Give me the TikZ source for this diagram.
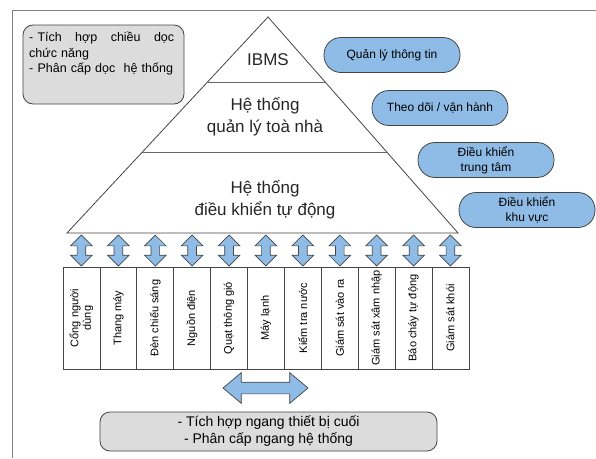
\documentclass[tikz,border=0pt]{standalone}
\usepackage{fontspec}
\setmainfont{Liberation Sans}
\usetikzlibrary{positioning,calc,shapes.arrows}
\definecolor{ibmsblue}{HTML}{8FBCE6}
\definecolor{ibmsgray}{HTML}{DCDCDC}
\definecolor{ibmsline}{HTML}{444444}

\begin{document}
\begin{tikzpicture}[x=1pt,y=-1pt,
    level/.style={text=black!85,font=\fontsize{17}{22}\selectfont,align=center},
    task/.style={draw=ibmsline,fill=ibmsblue,line width=0.8pt,rounded corners=17pt,
      minimum width=136pt,minimum height=35pt,inner sep=0pt,align=center,
      font=\fontsize{12}{15}\selectfont},
    note/.style={draw=ibmsline,fill=ibmsgray,line width=0.8pt,rounded corners=10pt},
    dev/.style={draw=ibmsline,line width=0.8pt,rotate=90,minimum width=102pt,
      minimum height=36.9pt,inner sep=1pt,align=center,font=\fontsize{11}{12.5}\selectfont},
    vlink/.style={double arrow,draw=ibmsline,fill=ibmsblue,line width=0.7pt,rotate=90,
      inner xsep=0pt,inner ysep=4pt,minimum height=31pt,double arrow head extend=6.5pt},
    hlink/.style={double arrow,draw=ibmsline,fill=ibmsblue,line width=0.7pt,
      inner xsep=0pt,inner ysep=5.5pt,minimum height=85pt,double arrow head extend=9.5pt,
      double arrow tip angle=80}]
    \useasboundingbox (0,0) rectangle (596,458);
    % frame
    \draw[gray,line width=1pt] (596,10.5) -- (12.5,10.5) -- (12.5,458);
    % pyramid
    \coordinate (apex) at (268,17);
    \coordinate (bl) at (67,233);
    \coordinate (br) at (458,233);
    \draw[ibmsline,line width=0.8pt] (apex) -- (br) -- (bl) -- cycle;
    \draw[gray!80!black,line width=1pt] ($(apex)!0.301!(bl)$) -- ($(apex)!0.301!(br)$);
    \draw[gray!80!black,line width=1pt] ($(apex)!0.625!(bl)$) -- ($(apex)!0.625!(br)$);
    \node[level] (ibms) at (268,60) {IBMS};
    \node[level] (bms) at (265,117) {Hệ thống\\quản lý toà nhà};
    \node[level] (bas) at (265,200) {Hệ thống\\điều khiển tự động};
    % functions
    \node[task] (info) at (392,55) {Quản lý thông tin};
    \node[task] (oper) at (440,108) {Theo dõi / vận hành};
    \node[task] (central) at (486,160) {Điều khiển\\trung tâm};
    \node[task] (zone) at (527,210) {Điều khiển\\khu vực};
    % vertical note
    \node[note,minimum width=161pt,minimum height=79pt] (vnote) at (103.5,64.5) {};
    \node[anchor=north west,text width=145pt,align=left,inner sep=0pt,
      font=\fontsize{12.5}{15.5}\selectfont] (vtext) at (29,32)
      {- Tích\hfill hợp\hfill chiều\hfill dọc\\ chức năng\\- Phân cấp dọc\ \ hệ thống};
    % end devices
    \foreach \lbl [count=\i from 0] in {{Cổng người\\dùng},Thang máy,Đèn chiếu sáng,
        Nguồn điện,Quạt thông gió,Máy lạnh,Kiểm tra nước,Giám sát vào ra,
        Giám sát xâm nhập,Báo cháy tự động,Giám sát khói}{
      \node[vlink] (up\i) at ({63+36.9*(\i+0.5)},250.5) {};
      \node[dev] (dev\i) at ({63+36.9*(\i+0.5)},318) {\lbl};
    }
    % horizontal note
    \node[hlink] (across) at (265.5,388) {};
    \node[note,minimum width=337pt,minimum height=39pt,align=center,
      font=\fontsize{14}{17}\selectfont] (hnote) at (268.5,431.5)
      {- Tích hợp ngang thiết bị cuối\\- Phân cấp ngang hệ thống};
\end{tikzpicture}
\end{document}
